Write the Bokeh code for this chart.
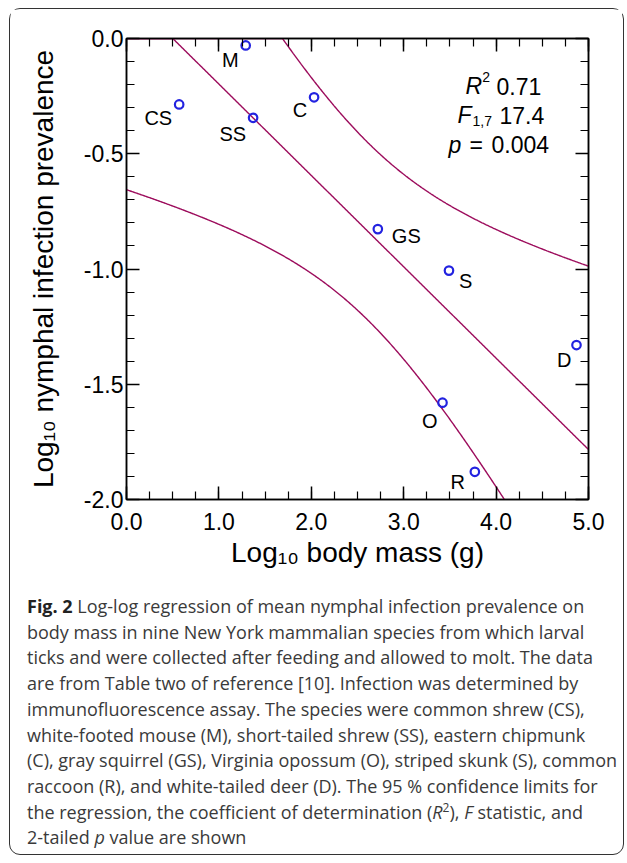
import numpy as np
from bokeh.plotting import figure
from bokeh.models import (Range1d, LinearAxis, SingleIntervalTicker, NumeralTickFormatter,
                          CustomJSTickFormatter, ColumnDataSource, Div)
from bokeh.layouts import column
from bokeh.core.properties import value
from bokeh.embed import file_html
from bokeh.resources import INLINE

# ---- data ----
species = ["CS", "M", "SS", "C", "GS", "S", "O", "R", "D"]
log_mass = [0.57, 1.29, 1.37, 2.03, 2.72, 3.49, 3.42, 3.77, 4.87]
log_prev = [-0.286, -0.030, -0.344, -0.255, -0.827, -1.007, -1.580, -1.880, -1.330]

# label placement (screen px offsets) and alignment
lab_dx = [-7, -7, -7, -7, 14, 10, -5, -10, -5]
lab_dy = [14, 15, 16, 13, 7, 10, 18, 10, 15]
lab_align = ["right", "right", "right", "right", "left", "left", "right", "right", "right"]

x_ticks_interval = 1.0
y_ticks_interval = 0.5

F_CRIT_2_7 = 4.737  # F(0.95; 2, 7) for Working-Hotelling 95 % band

CURVE = "#9c0c5c"
PT = "#2323e0"
FONT = "Liberation Sans"

# ---- regression from data ----
x = np.array(log_mass)
y = np.array(log_prev)
n = len(x)
b, a = np.polyfit(x, y, 1)
xbar = x.mean()
sxx = ((x - xbar) ** 2).sum()
sse = ((y - (a + b * x)) ** 2).sum()
s2 = sse / (n - 2)
W = np.sqrt(2 * F_CRIT_2_7)
xs = np.linspace(0, 5, 500)
fit = a + b * xs
half = W * np.sqrt(s2 * (1.0 / n + (xs - xbar) ** 2 / sxx))
upper = np.minimum(fit + half, 0)
lower = np.minimum(fit - half, 0)
fitc = np.minimum(fit, 0)

p = figure(width=612, height=572, x_range=Range1d(0, 5), y_range=Range1d(-2, 0),
           output_backend="svg", toolbar_location=None,
           min_border_left=116, min_border_right=34, min_border_top=29, min_border_bottom=82)
p.xgrid.visible = False
p.ygrid.visible = False
p.outline_line_color = "black"
p.outline_line_width = 1.5
p.background_fill_color = "white"
p.border_fill_color = "white"


def style_axis(ax, labels=True):
    ax.axis_line_color = "black"
    ax.axis_line_width = 1.5
    ax.major_tick_line_color = "black"
    ax.minor_tick_line_color = "black"
    ax.major_tick_line_width = 1.5
    ax.minor_tick_line_width = 1.2
    ax.major_tick_in = 13
    ax.major_tick_out = 0
    ax.minor_tick_in = 8
    ax.minor_tick_out = 0
    ax.major_label_text_font = FONT
    ax.major_label_text_font_size = "23px"
    ax.major_label_text_color = "black"
    ax.axis_label_text_font = FONT
    ax.axis_label_text_font_size = "28px"
    ax.axis_label_text_font_style = "normal"
    ax.axis_label_text_color = "black"
    if not labels:
        ax.formatter = CustomJSTickFormatter(code="return ''")
        ax.major_label_standoff = 0


xa = p.xaxis[0]
xa.ticker = SingleIntervalTicker(interval=x_ticks_interval, num_minor_ticks=4)
xa.formatter = NumeralTickFormatter(format="0.0")
style_axis(xa)
xa.major_label_standoff = 13
xa.axis_label = "Log\u2081\u2080 body mass (g)"
xa.axis_label_standoff = 4

ya = p.yaxis[0]
ya.ticker = SingleIntervalTicker(interval=y_ticks_interval, num_minor_ticks=5)
ya.formatter = NumeralTickFormatter(format="0.0")
style_axis(ya)
ya.major_label_standoff = 3
ya.axis_label = "Log\u2081\u2080 nymphal infection prevalence"
ya.axis_label_standoff = 22

top = LinearAxis(ticker=SingleIntervalTicker(interval=x_ticks_interval, num_minor_ticks=4))
style_axis(top, labels=False)
p.add_layout(top, "above")
right = LinearAxis(ticker=SingleIntervalTicker(interval=y_ticks_interval, num_minor_ticks=5))
style_axis(right, labels=False)
p.add_layout(right, "right")

# curves
p.line(xs, upper, line_color=CURVE, line_width=1.4)
p.line(xs, fitc, line_color=CURVE, line_width=1.4)
p.line(xs, lower, line_color=CURVE, line_width=1.4)

src = ColumnDataSource(dict(x=log_mass, y=log_prev, name=species, dx=lab_dx, dy=lab_dy, al=lab_align))
p.scatter("x", "y", source=src, marker="circle", size=8.5, fill_color=None,
          line_color=PT, line_width=2.2)
p.text("x", "y", text="name", source=src, x_offset="dx", y_offset="dy", text_align="al",
       text_baseline="middle", text_font=value(FONT), text_font_size="20px", text_color="black")

# statistics block (data coords inside the frame)
def t(xv, yv, s, size="23px", style="normal"):
    p.text(x=[xv], y=[yv], text=[s], text_font=value(FONT), text_font_size=size,
           text_font_style=style, text_baseline="alphabetic", text_align="left", text_color="black")

t(3.669, -0.208, "R", style="italic")
t(3.850, -0.169, "2", size="14px")
t(4.004, -0.208, "0.71")
t(3.582, -0.334, "F", style="italic")
t(3.745, -0.360, "1,7", size="14px")
t(4.037, -0.334, "17.4")
t(3.485, -0.460, "p", style="italic")
t(3.712, -0.460, "=")
t(3.950, -0.460, "0.004")

caption_html = (
    "<b style='color:#222'>Fig. 2</b> Log-log regression of mean nymphal infection prevalence on<br>"
    "body mass in nine New York mammalian species from which larval<br>"
    "ticks and were collected after feeding and allowed to molt. The data<br>"
    "are from Table two of reference [10]. Infection was determined by<br>"
    "immunofluorescence assay. The species were common shrew (CS),<br>"
    "white-footed mouse (M), short-tailed shrew (SS), eastern chipmunk<br>"
    "(C), gray squirrel (GS), Virginia opossum (O), striped skunk (S), common<br>"
    "raccoon (R), and white-tailed deer (D). The 95 % confidence limits for<br>"
    "the regression, the coefficient of determination (<i>R</i><sup style='font-size:12px;line-height:0'>2</sup>), <i>F</i> statistic, and<br>"
    "2-tailed <i>p</i> value are shown"
)
cap = Div(text=caption_html, width=612, height=267,
          styles={"font-family": "'Open Sans'", "font-size": "18px", "line-height": "25.7px",
                  "color": "#3a3a3a", "padding": "8px 0px 0px 12px", "white-space": "nowrap"})

layout = column(p, cap, width=615, height=847,
                styles={"border": "1.3px solid #333", "border-radius": "11px",
                        "margin": "8px 0px 0px 9px", "background": "white"})

open("out.html", "w").write(file_html(layout, INLINE))
